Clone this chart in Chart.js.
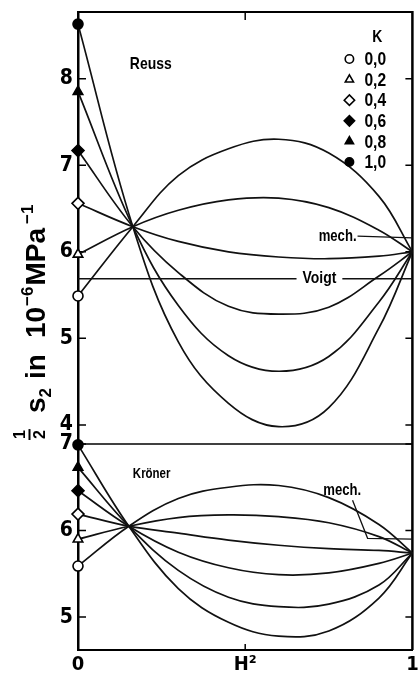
<!DOCTYPE html>
<html>
<head>
<meta charset="utf-8">
<script src="https://cdn.jsdelivr.net/npm/chart.js@4/dist/chart.umd.min.js"></script>
<style>
html,body{margin:0;padding:0;background:#fff;}
#wrap{position:relative;width:420px;height:684px;}
</style>
</head>
<body>
<div id="wrap"><canvas id="c"></canvas></div>
<script>
// ---------- data ----------
const xTickValues = [0, 0.5, 1];
const xTickLabels = ['0', 'H²', '1'];
const upperTicks = [4, 5, 6, 7, 8];
const lowerTicks = [5, 6, 7];
const kLabels = ['0,0', '0,2', '0,4', '0,6', '0,8', '1,0'];

// Reuss panel (upper)
const reussH2  = [0, 0.164, 0.3, 0.45, 0.6, 0.75, 0.9, 1];
const reussK00 = [5.49, 6.29, 6.88, 7.19, 7.30, 7.14, 6.64, 6.00];
const reussK02 = [5.97, 6.29, 6.48, 6.60, 6.62, 6.51, 6.25, 6.00];
const reussK04 = [6.56, 6.29, 6.12, 6.00, 5.94, 5.92, 5.95, 6.00];
const reussK06 = [7.17, 6.29, 5.76, 5.37, 5.28, 5.36, 5.72, 6.00];
const reussK08 = [7.85, 6.29, 5.38, 4.80, 4.62, 4.79, 5.42, 6.00];
const reussK10 = [8.63, 6.29, 4.96, 4.25, 3.98, 4.20, 5.12, 6.00];

// Kröner panel (lower)
const kronerH2  = [0, 0.152, 0.3, 0.45, 0.6, 0.75, 0.9, 1];
const kronerK00 = [5.59, 6.05, 6.37, 6.50, 6.52, 6.38, 6.07, 5.74];
const kronerK02 = [5.90, 6.05, 6.15, 6.18, 6.16, 6.09, 5.93, 5.74];
const kronerK04 = [6.19, 6.05, 5.97, 5.89, 5.83, 5.79, 5.77, 5.74];
const kronerK06 = [6.46, 6.05, 5.75, 5.57, 5.49, 5.51, 5.62, 5.74];
const kronerK08 = [6.73, 6.05, 5.54, 5.23, 5.12, 5.15, 5.37, 5.74];
const kronerK10 = [6.99, 6.05, 5.33, 4.94, 4.78, 4.84, 5.22, 5.74];

// reference lines
const voigtH2 = [0, 1];
const voigtValue = [5.69, 5.69];
const mechReussH2 = [0.836, 1];
const mechReussValue = [6.18, 6.16];
const mechKronerH2 = [0.821, 0.866, 1];
const mechKronerValue = [6.35, 5.91, 5.90];

// ---------- styling ----------
const upperRange = [3.78, 8.77];
const lowerRange = [4.62, 7.0];
const NARROW = "'Liberation Sans Narrow', 'DejaVu Sans Condensed', 'Liberation Sans', sans-serif";
const WIDE = "'Liberation Sans', Arial, sans-serif";
const SQUEEZE = 0.82;
const markerStyles = [
  {style: 'circle',   fill: false, r: 5},
  {style: 'triangle', fill: false, r: 5.5},
  {style: 'rectRot',  fill: false, r: 6},
  {style: 'rectRot',  fill: true,  r: 6},
  {style: 'triangle', fill: true,  r: 5.5},
  {style: 'circle',   fill: true,  r: 5}
];

function pts(xs, ys) { return xs.map((x, i) => ({x: x, y: ys[i]})); }

function curveSet(xs, ys, k, axis) {
  const m = markerStyles[k];
  return {
    data: pts(xs, ys), yAxisID: axis,
    borderColor: '#111', borderWidth: 1.7,
    tension: 0.38,
    pointStyle: m.style,
    pointRadius: c => c.dataIndex === 0 ? m.r : 0,
    pointHoverRadius: 0,
    pointBorderWidth: 1.6,
    pointBorderColor: '#000',
    pointBackgroundColor: m.fill ? '#000' : '#fff',
    clip: false
  };
}
function plainSet(xs, ys, axis, w) {
  return {data: pts(xs, ys), yAxisID: axis, borderColor: '#111', borderWidth: w,
          pointRadius: 0, tension: 0, clip: false};
}

const reussSeries = [reussK00, reussK02, reussK04, reussK06, reussK08, reussK10];
const kronerSeries = [kronerK00, kronerK02, kronerK04, kronerK06, kronerK08, kronerK10];

const datasets = [];
datasets.push(plainSet(voigtH2, voigtValue, 'yU', 1.5));
datasets.push(plainSet(mechReussH2, mechReussValue, 'yU', 1.3));
datasets.push(plainSet(mechKronerH2, mechKronerValue, 'yL', 1.3));
reussSeries.forEach((s, k) => datasets.push(curveSet(reussH2, s, k, 'yU')));
kronerSeries.forEach((s, k) => datasets.push(curveSet(kronerH2, s, k, 'yL')));

const textNotes = [
  {text: 'Reuss',  h2: 0.155, v: 8.17, axis: 'yU', align: 'left',   size: 17},
  {text: 'Kröner', h2: 0.164, v: 6.65, axis: 'yL', align: 'left',   size: 14},
  {text: 'mech.',  h2: 0.833, v: 6.18, axis: 'yU', align: 'right',  size: 16},
  {text: 'mech.',  h2: 0.79,  v: 6.46, axis: 'yL', align: 'center', size: 16},
  {text: 'Voigt',  h2: 0.722, v: 5.69, axis: 'yU', align: 'center', size: 17, knockout: true}
];

function yAxis(range, ticks, weight) {
  return {
    type: 'linear', position: 'left', stack: 'panels', stackWeight: weight,
    min: range[0], max: range[1],
    grid: {display: false, drawTicks: false},
    border: {display: true, color: '#000', width: 2.5},
    ticks: {font: {family: NARROW, size: 21, weight: 'bold'}, color: '#000', padding: 5, autoSkip: false},
    afterBuildTicks: s => { s.ticks = ticks.map(v => ({value: v})); },
    afterFit: s => { s.width = 78; s.paddingTop = 0; s.paddingBottom = 0; }
  };
}

function drawInnerTicks(ctx, a, scales) {
  ctx.lineWidth = 1.5;
  ctx.strokeStyle = '#000';
  ctx.beginPath();
  ['yU', 'yL'].forEach(id => {
    const s = scales[id];
    s.ticks.forEach(t => {
      const y = s.getPixelForValue(t.value);
      ctx.moveTo(a.left, y); ctx.lineTo(a.left + 8, y);
      ctx.moveTo(a.right, y); ctx.lineTo(a.right - 7, y);
    });
  });
  const xs = scales.x;
  xs.ticks.forEach(t => {
    if (t.value <= 0 || t.value >= 1) return;
    const x = xs.getPixelForValue(t.value);
    ctx.moveTo(x, a.top); ctx.lineTo(x, a.top + 8);
    ctx.moveTo(x, a.bottom); ctx.lineTo(x, a.bottom - 6);
  });
  ctx.stroke();
}

function squeezedText(ctx, text, x, y, align) {
  ctx.save();
  ctx.translate(x, y);
  ctx.scale(SQUEEZE, 1);
  ctx.textAlign = align;
  ctx.fillText(text, 0, 0);
  ctx.restore();
}

function drawLegend(ctx, a) {
  ctx.fillStyle = '#000';
  ctx.textBaseline = 'middle';
  ctx.font = "bold 17px " + WIDE;
  squeezedText(ctx, 'K', a.right - 35, a.top + 25, 'center');
  kLabels.forEach((lab, i) => {
    const y = a.top + 47 + i * 20.6;
    const m = markerStyles[i];
    ctx.save();
    ctx.fillStyle = m.fill ? '#000' : '#fff';
    ctx.strokeStyle = '#000';
    ctx.lineWidth = 1.6;
    Chart.helpers.drawPoint(ctx, {pointStyle: m.style, radius: m.r - 0.8, borderWidth: 1.6, rotation: 0}, a.right - 63, y);
    ctx.restore();
    ctx.fillStyle = '#000';
    ctx.font = "bold 19px " + WIDE;
    squeezedText(ctx, lab, a.right - 48, y + 1, 'left');
  });
}

function drawNotes(ctx, scales) {
  textNotes.forEach(n => {
    const x = scales.x.getPixelForValue(n.h2);
    const y = scales[n.axis].getPixelForValue(n.v);
    ctx.font = "bold " + n.size + "px " + WIDE;
    ctx.textBaseline = 'middle';
    if (n.knockout) {
      const w = ctx.measureText(n.text).width * SQUEEZE;
      const left = n.align === 'center' ? x - w / 2 : (n.align === 'right' ? x - w : x);
      ctx.fillStyle = '#fff';
      ctx.fillRect(left - 6, y - 8, w + 12, 16);
    }
    ctx.fillStyle = '#000';
    squeezedText(ctx, n.text, x, y, n.align);
  });
}

function drawYTitle(ctx) {
  const main = "bold 28px " + WIDE;
  const small = "bold 17px " + WIDE;
  const frac = "bold 16px " + WIDE;
  ctx.save();
  ctx.translate(45, 441);
  ctx.rotate(-Math.PI / 2);
  ctx.fillStyle = '#000';
  ctx.textAlign = 'left';
  ctx.textBaseline = 'alphabetic';
  let p = 1;
  ctx.font = frac;
  const w1 = ctx.measureText('1').width;
  ctx.fillText('1', p + 1, -20);
  ctx.fillText('2', p + 1, 0);
  ctx.fillRect(p, -16.5, w1 + 2, 2);
  p = 28;
  ctx.font = main;
  ctx.fillText('s', p, 0); p += ctx.measureText('s').width;
  ctx.font = small;
  ctx.fillText('2', p, 6); p += ctx.measureText('2').width + 9;
  ctx.font = main;
  ctx.fillText('in', p, 0); p += ctx.measureText('in').width + 16;
  ctx.fillText('10', p, 0); p += ctx.measureText('10').width + 1;
  ctx.font = small;
  ctx.fillText('\u22126', p, -12); p += ctx.measureText('\u22126').width + 1;
  ctx.font = main;
  ctx.fillText('MPa', p, 0); p += ctx.measureText('MPa').width + 4;
  ctx.font = small;
  ctx.fillText('\u22121', p, -12);
  ctx.restore();
}

const decor = {
  id: 'decor',
  beforeDatasetsDraw(chart) {
    const {ctx, chartArea: a, scales} = chart;
    ctx.save();
    ctx.strokeStyle = '#000';
    ctx.lineWidth = 2;
    ctx.beginPath();
    ctx.moveTo(a.left, a.top); ctx.lineTo(a.right, a.top);
    ctx.stroke();
    ctx.lineWidth = 2.5;
    ctx.beginPath();
    ctx.moveTo(a.right, a.top - 1); ctx.lineTo(a.right, a.bottom);
    ctx.stroke();
    const yDiv = scales.yL.getPixelForValue(scales.yL.max);
    ctx.lineWidth = 1.6;
    ctx.beginPath();
    ctx.moveTo(a.left, yDiv); ctx.lineTo(a.right, yDiv);
    ctx.stroke();
    drawInnerTicks(ctx, a, scales);
    ctx.restore();
  },
  afterDatasetsDraw(chart) {
    const {ctx, chartArea: a, scales} = chart;
    ctx.save();
    drawNotes(ctx, scales);
    drawLegend(ctx, a);
    drawYTitle(ctx);
    ctx.restore();
  }
};

new Chart(document.getElementById('c'), {
  type: 'line',
  data: {datasets: datasets},
  plugins: [decor],
  options: {
    responsive: true,
    maintainAspectRatio: false,
    animation: false,
    events: [],
    layout: {padding: {left: 0, right: 7, top: 12, bottom: 0}},
    plugins: {legend: {display: false}, tooltip: {enabled: false}, title: {display: false}},
    scales: {
      x: {
        type: 'linear', position: 'bottom', min: 0, max: 1,
        grid: {display: false, drawTicks: false},
        border: {display: true, color: '#000', width: 2},
        ticks: {
          font: {family: NARROW, size: 20, weight: 'bold'}, color: '#000', padding: 3,
          autoSkip: false, maxRotation: 0,
          callback: v => { const i = xTickValues.indexOf(v); return i >= 0 ? xTickLabels[i] : ''; }
        },
        afterBuildTicks: s => { s.ticks = xTickValues.map(v => ({value: v})); },
        afterFit: s => { s.height = 34; s.paddingLeft = 0; s.paddingRight = 0; }
      },
      yL: yAxis(lowerRange, lowerTicks, lowerRange[1] - lowerRange[0]),
      yU: yAxis(upperRange, upperTicks, upperRange[1] - upperRange[0])
    }
  }
});
</script>
</body>
</html>
